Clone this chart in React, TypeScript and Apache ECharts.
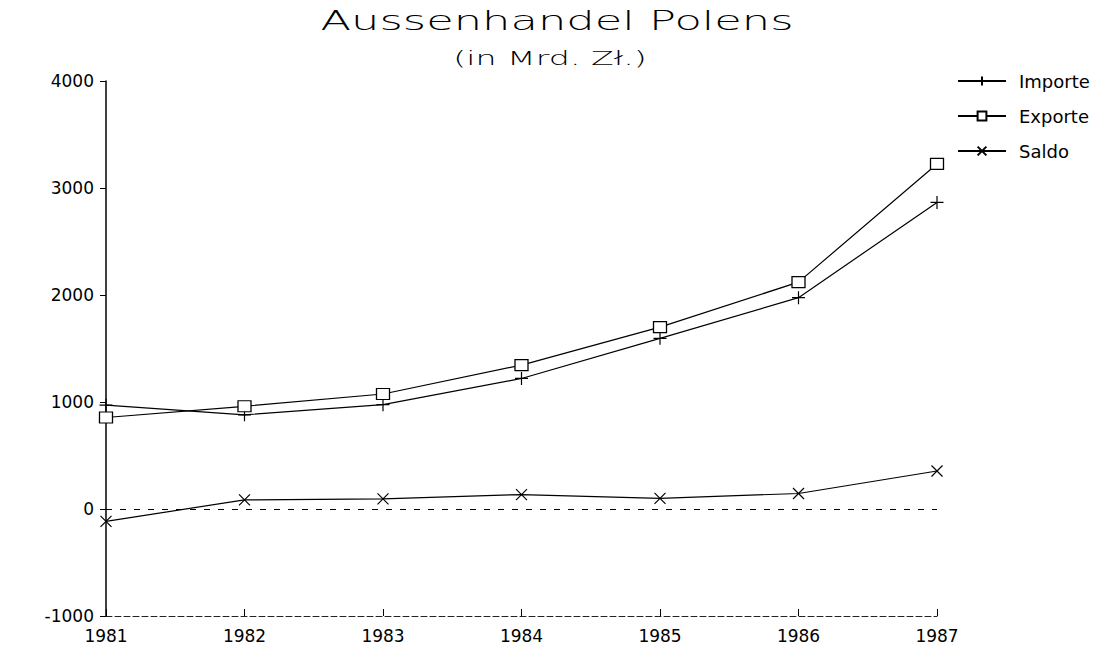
import React, { useEffect, useRef } from "react";
import * as echarts from "echarts";

const years = ["1981", "1982", "1983", "1984", "1985", "1986", "1987"];
const importe = [970, 880, 975, 1220, 1595, 1975, 2865];
const exporte = [855, 960, 1075, 1345, 1700, 2120, 3225];
const saldo = [-115, 85, 95, 135, 100, 145, 355];
const titleText = "Aussenhandel Polens";
const subtitleText = "(in Mrd. Zł.)";

const FONT = "DejaVu Sans";
const PLUS = "path://M0,5L10,5M5,0L5,10";
const CROSS = "path://M0,0L10,10M10,0L0,10";

export default function App() {
  const ref = useRef<HTMLDivElement>(null);
  useEffect(() => {
    if (!ref.current) return;
    const chart = echarts.init(ref.current, undefined, { renderer: "svg" });
    const lineStyle = { color: "#000", width: 1.2 };
    chart.setOption({
      animation: false,
      backgroundColor: "#fff",
      graphic: [
        {
          type: "text",
          x: 557,
          y: 7,
          scaleX: 1.66,
          style: {
            text: titleText,
            font: `200 27px "${FONT}"`,
            fill: "#000",
            textAlign: "center",
            textVerticalAlign: "top",
          },
        },
        {
          type: "text",
          x: 550,
          y: 49,
          scaleX: 1.75,
          style: {
            text: subtitleText,
            font: `300 19px "${FONT}"`,
            fill: "#000",
            textAlign: "center",
            textVerticalAlign: "top",
          },
        },
      ],
      legend: {
        orient: "vertical",
        left: 952,
        top: 67,
        itemWidth: 48,
        itemHeight: 11,
        itemGap: 17,
        textStyle: { fontFamily: FONT, fontSize: 18, color: "#000", padding: [0, 0, 0, 8] },
        data: ["Importe", "Exporte", "Saldo"],
      },
      grid: { left: 106, right: 182, top: 81, bottom: 38, containLabel: false },
      xAxis: {
        type: "category",
        data: years,
        boundaryGap: false,
        axisLine: { onZero: false, lineStyle: { color: "#222", width: 1, type: [6, 3] } },
        axisTick: { inside: true, length: 7, lineStyle: { color: "#000" } },
        axisLabel: { fontFamily: FONT, fontSize: 17, color: "#000", margin: 11 },
        splitLine: { show: false },
      },
      yAxis: {
        type: "value",
        min: -1000,
        max: 4000,
        interval: 1000,
        axisLine: { show: true, lineStyle: { color: "#000", width: 1.5 } },
        axisTick: { show: true, length: 6, lineStyle: { color: "#000" } },
        axisLabel: {
          fontFamily: FONT,
          fontSize: 17,
          color: "#000",
          margin: 12,
          formatter: (v: number) => String(v),
        },
        splitLine: { show: false },
      },
      series: [
        {
          name: "Importe",
          type: "line",
          data: importe,
          symbol: PLUS,
          symbolSize: 13,
          showAllSymbol: true,
          lineStyle,
          itemStyle: { color: "#000", borderColor: "#000", borderWidth: 1.2 },
        },
        {
          name: "Exporte",
          type: "line",
          data: exporte,
          symbol: "rect",
          symbolSize: [13, 11],
          showAllSymbol: true,
          lineStyle,
          itemStyle: { color: "#fff", borderColor: "#000", borderWidth: 1.2 },
        },
        {
          name: "Saldo",
          type: "line",
          data: saldo,
          symbol: CROSS,
          symbolSize: 11,
          showAllSymbol: true,
          lineStyle,
          itemStyle: { color: "#000", borderColor: "#000", borderWidth: 1.2 },
          markLine: {
            silent: true,
            symbol: "none",
            label: { show: false },
            lineStyle: { color: "#000", type: [6, 8], width: 1 },
            data: [{ yAxis: 0 }],
          },
        },
      ],
    });
    return () => chart.dispose();
  }, []);
  return <div ref={ref} style={{ width: 1119, height: 654, position: "absolute", left: 0, top: 0 }} />;
}
